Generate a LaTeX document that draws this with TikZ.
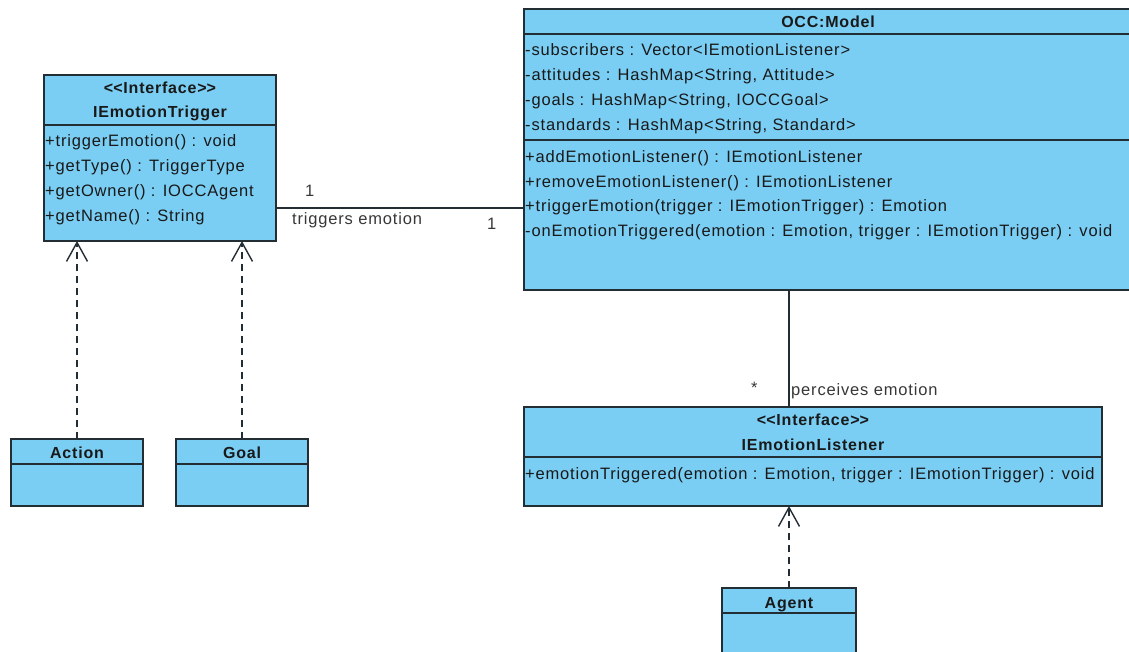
\documentclass[tikz,border=0pt]{standalone}
\usepackage{fontspec}
\setmainfont{Liberation Sans}[LetterSpace=5]
\usetikzlibrary{arrows.meta}

\definecolor{umlfill}{RGB}{122,206,244}
\definecolor{umlline}{RGB}{35,45,52}
\definecolor{umltext}{RGB}{25,25,25}
\definecolor{labeltext}{RGB}{55,55,55}

% guillemet-free stereotype brackets
\newcommand{\stereo}[1]{<\kern0pt<#1>\kern0pt>}

\tikzset{
  classbox/.style={draw=umlline, fill=umlfill, line width=1.6pt, anchor=north west,
                   inner sep=0pt, outer sep=0pt},
  divider/.style={draw=umlline, line width=1.6pt},
  member/.style={anchor=base west, inner sep=0pt, text=umltext,
                 font=\fontsize{16.5}{19}\selectfont},
  title/.style={anchor=base, inner sep=0pt, text=umltext,
                font=\fontsize{16}{19}\selectfont\bfseries},
  lbl/.style={anchor=base west, inner sep=0pt, text=labeltext,
              font=\fontsize{16.5}{19}\selectfont},
  assoc/.style={draw=umlline, line width=1.5pt},
  realize/.style={draw=umlline, line width=1.4pt, dash pattern=on 7pt off 5pt,
                  -{Straight Barb[length=19pt,width=21pt,line width=1.4pt]}},
}

\begin{document}
\begin{tikzpicture}[x=1pt, y=-1pt]
\useasboundingbox (0,0) rectangle (1129,652);
\clip (0,0) rectangle (1129,652);

% ---------- IEmotionTrigger ----------
\node[classbox, minimum width=232pt, minimum height=166pt] (trig) at (44,75) {};
\draw[divider] (44,125) -- (276,125);
\node[title] (trigst) at (160,94) {\stereo{Interface}};
\node[title] (trigname) at (160,118) {IEmotionTrigger};
\node[member] (trigm1) at (45,147) {+triggerEmotion() : void};
\node[member] (trigm2) at (45,172) {+getType() : TriggerType};
\node[member] (trigm3) at (45,197) {+getOwner() : IOCCAgent};
\node[member] (trigm4) at (45,222) {+getName() : String};

% ---------- OCC:Model ----------
\node[classbox, minimum width=608pt, minimum height=281pt] (model) at (524,9) {};
\draw[divider] (524,34) -- (1132,34);
\draw[divider] (524,140) -- (1132,140);
\node[title] (modelname) at (828,28) {OCC:Model};
\node[member] (moda1) at (525,56) {-subscribers : Vector<IEmotionListener>};
\node[member] (moda2) at (525,81) {-attitudes : HashMap<String, Attitude>};
\node[member] (moda3) at (525,106) {-goals : HashMap<String, IOCCGoal>};
\node[member] (moda4) at (525,131) {-standards : HashMap<String, Standard>};
\node[member] (modm1) at (525,163) {+addEmotionListener() : IEmotionListener};
\node[member] (modm2) at (525,188) {+removeEmotionListener() : IEmotionListener};
\node[member] (modm3) at (525,212) {+triggerEmotion(trigger : IEmotionTrigger) : Emotion};
\node[member] (modm4) at (525,237) {-onEmotionTriggered(emotion : Emotion, trigger : IEmotionTrigger) : void};

% ---------- IEmotionListener ----------
\node[classbox, minimum width=578pt, minimum height=99pt] (listener) at (524,407) {};
\draw[divider] (524,457) -- (1102,457);
\node[title] (listst) at (813,425) {\stereo{Interface}};
\node[title] (listname) at (813,450) {IEmotionListener};
\node[member] (listm1) at (525,479) {+emotionTriggered(emotion : Emotion, trigger : IEmotionTrigger) : void};

% ---------- Action, Goal, Agent ----------
\node[classbox, minimum width=132pt, minimum height=67pt] (action) at (11,439) {};
\draw[divider] (11,464) -- (143,464);
\node[title] (actionname) at (77,458) {Action};

\node[classbox, minimum width=132pt, minimum height=67pt] (goal) at (176,439) {};
\draw[divider] (176,464) -- (308,464);
\node[title] (goalname) at (242,458) {Goal};

\node[classbox, minimum width=134pt, minimum height=80pt] (agent) at (722,588) {};
\draw[divider] (722,613) -- (856,613);
\node[title] (agentname) at (789,608) {Agent};

% ---------- associations ----------
\coordinate (trigend) at ([yshift=-50pt]trig.east);
\draw[assoc] (trigend) -- (trigend -| model.west);
\node[lbl] (mult1) at (305,197) {1};
\node[lbl] (assoc1) at (292,225) {triggers emotion};
\node[lbl] (mult2) at (487,230) {1};

\draw[assoc] (agent.north |- model.south) -- (agent.north |- listener.north);
\node[lbl] (mult3) at (751,393) {*};
\node[lbl] (assoc2) at (791,395) {perceives emotion};

% ---------- realizations ----------
\draw[realize] (action.north) -- (action.north |- trig.south);
\draw[realize] (goal.north) -- (goal.north |- trig.south);
\draw[realize] (agent.north) -- (agent.north |- listener.south);
\end{tikzpicture}
\end{document}
